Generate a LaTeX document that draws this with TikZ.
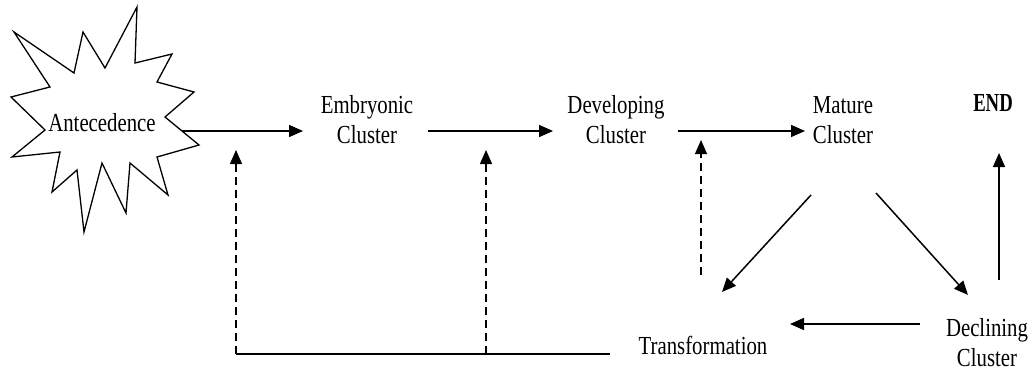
\documentclass[tikz,border=0pt]{standalone}
\usepackage{fontspec}
\setmainfont[FakeStretch=0.80]{Liberation Serif}
\usetikzlibrary{arrows.meta,calc}
\newcommand{\lblfont}{\fontsize{26}{30}\selectfont}
\tikzset{
  lbl/.style={align=center, inner sep=0pt, font=\lblfont},
  arr/.style={line width=1.5pt, -{Triangle[length=14pt,width=12pt]}},
  darr/.style={line width=1.3pt, dash pattern=on 8pt off 5pt, -{Triangle[length=14pt,width=12pt]}},
  plain/.style={line width=1.3pt},
  starshape/.style={line width=1.3pt, fill=white, line join=miter}
}
\begin{document}
\begin{tikzpicture}[x=1pt,y=-1pt]
\useasboundingbox (0,0) rectangle (1035,372);
% star
\draw[starshape] (14,32) -- (74,73) -- (83,32) -- (105,68) -- (137,7) -- (135,63)
  -- (172,54) -- (157,82) -- (194,92) -- (165,117) -- (199,145) -- (157,157)
  -- (168,195) -- (130,163) -- (126,213) -- (102,163) -- (84,232) -- (77,170)
  -- (52,192) -- (60,152) -- (12,157) -- (45,130) -- (11,97) -- (50,87) -- cycle;
\node[lbl] (ante) at (102,123) {Antecedence};
\node[lbl] (emb) at (367,120) {Embryonic\\Cluster};
\node[lbl] (dev) at (616,120) {Developing\\Cluster};
\node[lbl] (mat) at (843,120) {Mature\\Cluster};
\node[lbl, font=\lblfont\bfseries] (end) at (993,103) {\scalebox{0.9}[1]{END}};
\node[lbl] (trans) at (703,345) {Transformation};
\node[lbl] (dec) at (987,343) {Declining\\Cluster};
% main flow
\draw[arr] ($(ante)+(80,8)$) -- ($(emb)+(-64,11)$);
\draw[arr] ($(emb)+(61,11)$) -- ($(dev)+(-63,11)$);
\draw[arr] ($(dev)+(62,11)$) -- ($(mat)+(-38,11)$);
\draw[arr] ($(mat)+(-32,75)$) -- ($(trans)+(19,-53)$);
\draw[arr] ($(mat)+(33,73)$) -- ($(dec)+(-19,-48)$);
\draw[arr] ($(dec)+(-67,-19)$) -- ($(trans)+(87,-21)$);
\draw[arr] ($(dec)+(12,-63)$) -- ($(end)+(6,50)$);
% feedback
\coordinate (fbR) at ($(trans)+(-93,9)$);
\coordinate (fbL) at ($(emb)+(-131,234)$);
\coordinate (fbM) at ($(emb)+(119,234)$);
\draw[plain] (fbR) -- (fbL);
\draw[darr] (fbL) -- ($(emb)+(-131,30)$);
\draw[darr] (fbM) -- ($(emb)+(119,30)$);
\draw[darr] ($(trans)+(-2,-70)$) -- ($(dev)+(85,20)$);
\end{tikzpicture}
\end{document}
